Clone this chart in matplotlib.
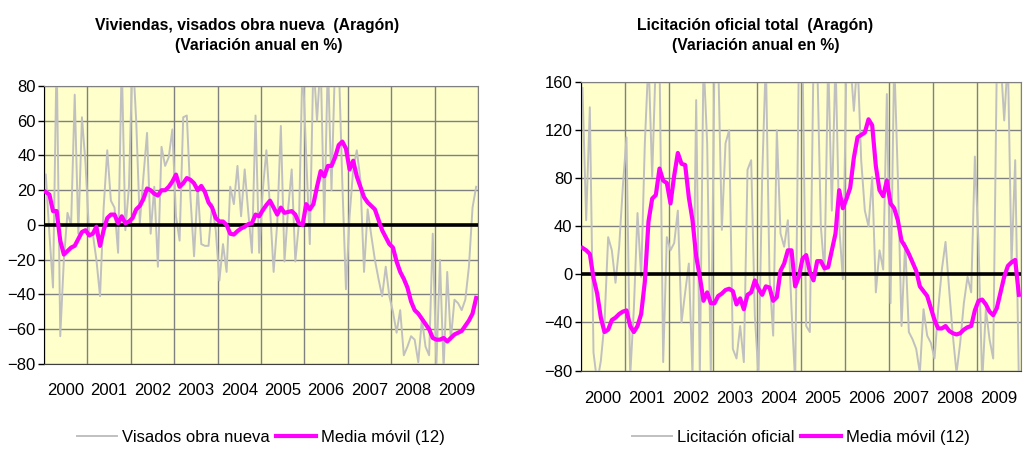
import matplotlib.pyplot as plt
import numpy as np

plt.rcParams['font.family'] = ['Liberation Sans', 'DejaVu Sans']

# meses ene-2000 .. dic-2009
years = [str(y) for y in range(2000, 2010)]

# Viviendas, visados obra nueva (variación anual %)
visados = [29, -5, -36, 100, -64, -20, 7, 0, 75, -5, 62, 35,
           -6, -5, -20, -41, 10, 43, 14, 10, -16, 95, -3, 22,
           100, 60, 1, 28, 53, -5, 22, -24, 45, 34, 39, 55,
           5, -9, 62, 63, 16, -18, 22, -11, -12, -12, 12, -3,
           -32, -11, -27, 22, 12, 34, 5, 32, 7, -16, 63, -16,
           20, 43, 10, -27, 1, 57, -21, 9, 32, -21, 1, 95,
           40, -11, 95, 60, 95, 1, 95, 20, 95, 95, 24, -37,
           5, 32, 43, 26, -27, 9, -6, -20, -31, -41, -24, -41,
           -50, -62, -49, -75, -70, -64, -66, -79, -54, -70, -75, -5,
           -81, -20, -83, -27, -66, -43, -45, -49, -43, -24, 10, 22]
visados_mm = [19, 17.5, 8, 8, -9, -17, -15, -13, -12, -8, -4, -3,
              -6, -5, -1, -12, -3, 4, 6, 6, 1, 5, 1, 2,
              4, 9, 11, 15, 21, 20, 18, 17, 20, 20, 22, 25,
              29, 22, 24, 27, 26, 24, 20, 22.5, 19, 13, 10, 4,
              2, 2, 0, -5, -5.5, -3.5, -2, -1, 0.5, 1, 6, 5,
              8.5, 11.5, 14, 10, 6, 10, 7, 7.5, 8, 6, 1, 0,
              12, 9, 12, 22, 31, 28, 34, 34, 39, 46, 48, 44,
              32, 37, 28, 22, 16, 13, 11, 9, 3, -3, -7, -11,
              -13, -21, -27, -31, -36, -44, -49, -51, -54, -57, -60, -65,
              -66, -66, -65, -67, -65, -63, -62, -61, -58, -55, -51, -42]

# Licitación oficial total (variación anual %)
licitacion = [155, 45, 139, -65, -90, -72, -40, 31, 20, -7, 23, 73,
              114, -85, -29, 51, -2, 109, 180, 81, 180, 180, -73, 31,
              20, 26, 53, -40, -15, 9, -85, 145, -85, 180, 109, -85,
              180, 180, 37, 109, 120, -62, -70, -43, -73, 87, 95, -35,
              -85, 81, 180, -2, -51, 120, 34, 23, 45, -29, -90, 180,
              180, -43, -48, 180, 180, 40, 1, 180, 53, 180, 40, -4,
              180, 180, 136, 180, 95, 53, 40, 81, -15, 20, 4, 150,
              -24, 180, 81, -43, 26, -48, -54, -62, -82, -29, -51, -57,
              -70, -29, 4, 27, -13, -51, -82, -57, -24, -2, -15, 98,
              26, -90, -29, -54, -70, 180, 180, 128, 180, 9, 95, -90]
licitacion_mm = [22, 20, 17, -3, -16, -36, -48, -46, -38, -36, -33, -31,
                 -30, -43, -48, -43, -33, -6, 44, 63, 66, 88, 78, 76,
                 59, 82, 101, 92, 91, 64, 45, 15, -2, -22, -15, -24,
                 -24, -18, -16, -13, -12, -14, -25, -20, -29, -17, -15, -5,
                 -12, -17, -10, -11, -22, -19, 3, 9, 20, 20, -10, -2,
                 13, 16, 2, -5, 11, 11, 5, 6, 20, 34, 70, 55,
                 63, 72, 97, 114, 116, 118, 129, 124, 90, 70, 65, 78,
                 59, 55, 45, 28, 23, 17, 10, 3, -10, -14, -18, -28,
                 -38, -45, -45, -43, -47, -49, -50, -49, -46, -44, -43, -30,
                 -22, -21, -25, -31, -34, -28, -15, -2, 7, 10, 12, -17]

x = 2000 + (np.arange(len(visados)) + 0.5) / 12

fig = plt.figure(figsize=(10.25, 4.49), dpi=100)
ax1 = fig.add_axes([0.0429, 0.1893, 0.4234, 0.6192])
ax2 = fig.add_axes([0.5665, 0.1748, 0.4293, 0.6425])

paneles = [
    (ax1, visados, visados_mm, (-80, 80), 20, 'Visados obra nueva', 0.5 * (0.0429 * 2 + 0.4234), 14),
    (ax2, licitacion, licitacion_mm, (-80, 160), 40, 'Licitación oficial', 0.5 * (0.5665 * 2 + 0.4293), 15),
]

for ax, serie, media, lim, paso, nombre, xc, pad in paneles:
    ax.set_facecolor('#FFFFCC')
    ax.plot(x, serie, color='#C0C0C0', lw=1.4, label=nombre, zorder=2)
    ax.axhline(0, color='black', lw=2.6, zorder=3)
    ax.plot(x, media, color='#FF00FF', lw=3, label='Media móvil (12)', zorder=4)
    ax.set_xlim(2000, 2010)
    ax.set_ylim(*lim)
    ax.set_yticks(np.arange(lim[0], lim[1] + 1, paso))
    ax.set_xticks(np.arange(2000, 2011))
    ax.set_xticks(np.arange(2000.5, 2010), minor=True)
    ax.set_xticklabels([])
    ax.set_xticklabels(years, minor=True)
    ax.tick_params(axis='x', which='both', length=0)
    ax.tick_params(axis='x', which='minor', labelsize=12, pad=pad)
    ax.tick_params(axis='y', length=4, width=1, labelsize=12, pad=2)
    ax.grid(True, which='major', color='#808080', lw=1)
    ax.set_axisbelow(True)
    for s in ['top', 'right']:
        ax.spines[s].set_color('#808080')
    ax.spines['left'].set_color('black')
    ax.spines['bottom'].set_color('#404040')
    fig.legend(handles=ax.get_lines()[::2], loc='center', bbox_to_anchor=(xc, 0.025),
               ncol=2, frameon=False, fontsize=12, handlelength=2.4,
               handletextpad=0.3, columnspacing=0.4)

fig.text(0.241, 0.944, 'Viviendas, visados obra nueva  (Aragón)', ha='center', va='center',
         fontsize=11.3, fontweight='bold')
fig.text(0.252, 0.899, '(Variación anual en %)', ha='center', va='center',
         fontsize=11.3, fontweight='bold')
fig.text(0.737, 0.944, 'Licitación oficial total  (Aragón)', ha='center', va='center',
         fontsize=11.3, fontweight='bold')
fig.text(0.737, 0.899, '(Variación anual en %)', ha='center', va='center',
         fontsize=11.3, fontweight='bold')

fig.savefig('out.png', dpi=100)
